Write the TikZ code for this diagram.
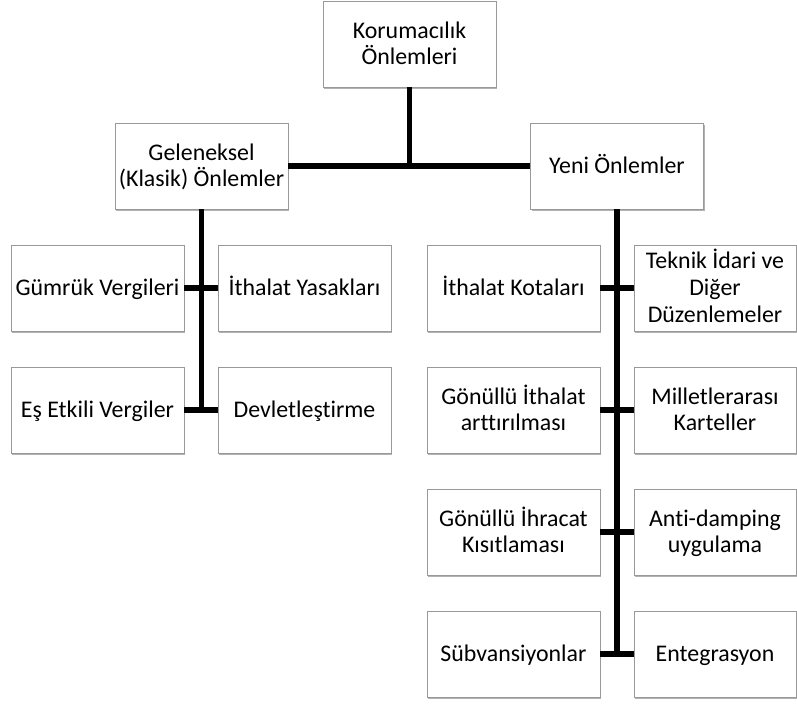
\documentclass[tikz,border=0pt]{standalone}
\usepackage{fontspec}
\setmainfont{Carlito}[Ligatures=NoCommon]
\usetikzlibrary{shadows}
\newcommand{\lnstrut}{\rule[-4.4pt]{0pt}{20pt}}
\begin{document}
\begin{tikzpicture}[x=0.75pt,y=-0.75pt,
  box/.style={draw=black!40, line width=0.6pt, fill=white, rectangle,
    minimum width=129.75pt, minimum height=64.5pt, inner sep=2pt,
    align=center, font=\fontsize{17.9pt}{20pt}\selectfont,
    drop shadow={shadow xshift=1pt, shadow yshift=-1.6pt, opacity=0.3, fill=black}},
  rbox/.style={box, minimum width=121.5pt},
  conn/.style={line width=3.8pt, black}]
\useasboundingbox (0,0) rectangle (797,704);
\node[box] (root) at (409.5,44) {\lnstrut Korumacılık\\\lnstrut Önlemleri};
\node[box] (gel) at (201.5,166) {\lnstrut Geleneksel\\\lnstrut (Klasik) Önlemler};
\node[box] (yeni) at (617,166) {\lnstrut Yeni Önlemler};
\node[box] (gumruk) at (97.5,288) {\lnstrut Gümrük Vergileri};
\node[box] (yasak) at (304.5,288) {\lnstrut İthalat Yasakları};
\node[box] (es) at (97.5,410) {\lnstrut Eş Etkili Vergiler};
\node[box] (devlet) at (304.5,410) {\lnstrut Devletleştirme};
\node[box] (kota) at (513.5,288) {\lnstrut İthalat Kotaları};
\node[rbox] (teknik) at (715,288) {\lnstrut Teknik İdari ve\\\lnstrut Diğer\\\lnstrut Düzenlemeler};
\node[box] (gonith) at (513.5,410) {\lnstrut Gönüllü İthalat\\\lnstrut arttırılması};
\node[rbox] (millet) at (715,410) {\lnstrut Milletlerarası\\\lnstrut Karteller};
\node[box] (gonihr) at (513.5,532) {\lnstrut Gönüllü İhracat\\\lnstrut Kısıtlaması};
\node[rbox] (anti) at (715,532) {\lnstrut Anti-damping\\\lnstrut uygulama};
\node[box] (subv) at (513.5,654) {\lnstrut Sübvansiyonlar};
\node[rbox] (enteg) at (715,654) {\lnstrut Entegrasyon};
\draw[conn] (root.south) -- (root.south |- gel.east);
\draw[conn] (gel.east) -- (yeni.west);
\draw[conn] (gel.south) -- (gel.south |- es.east);
\draw[conn] (gumruk.east) -- (yasak.west);
\draw[conn] (es.east) -- (devlet.west);
\draw[conn] (yeni.south) -- (yeni.south |- subv.east);
\draw[conn] (kota.east) -- (teknik.west);
\draw[conn] (gonith.east) -- (millet.west);
\draw[conn] (gonihr.east) -- (anti.west);
\draw[conn] (subv.east) -- (enteg.west);
\end{tikzpicture}
\end{document}
